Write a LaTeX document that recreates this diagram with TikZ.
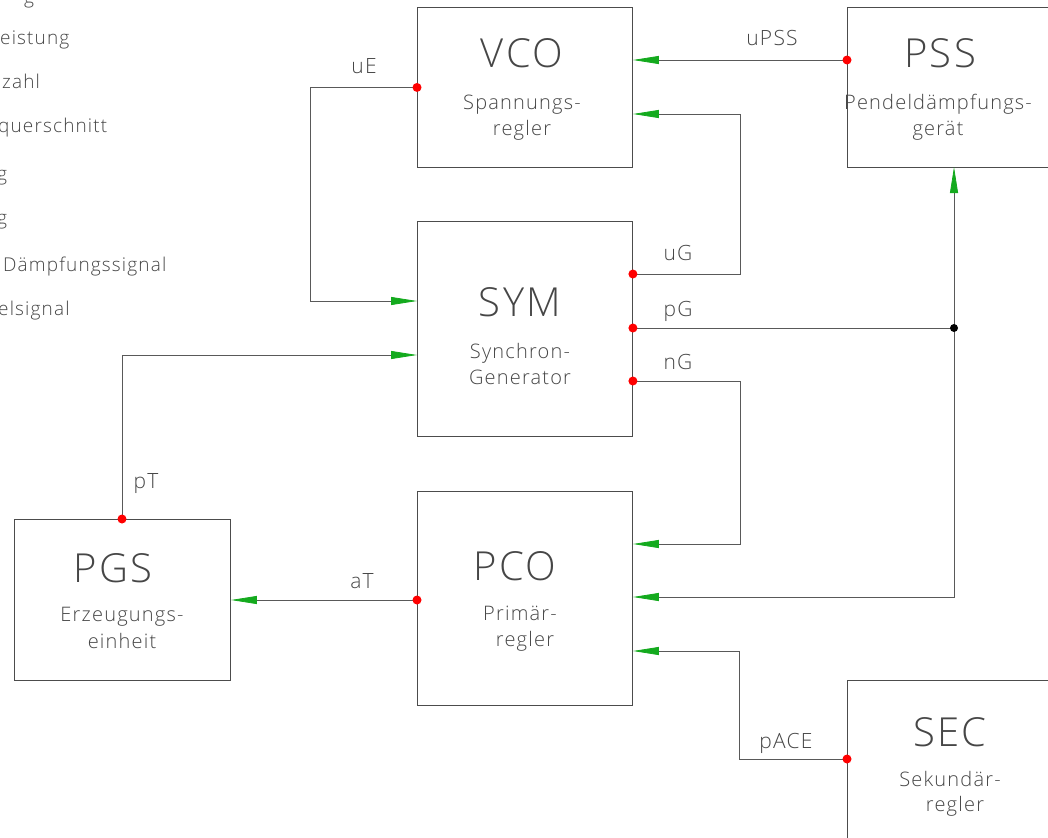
\documentclass[tikz,border=0pt]{standalone}
\usepackage{fontspec}
\setmainfont{Open Sans}[UprightFont=* Light, LetterSpace=6]
\usetikzlibrary{arrows.meta,calc}
\definecolor{arrgreen}{RGB}{20,170,30}
\definecolor{txtgray}{RGB}{70,70,70}
\tikzset{
  box/.style={draw=black!70, line width=0.9pt, minimum width=215pt, minimum height=160pt, anchor=north west, inner sep=0pt},
  conn/.style={draw=black!65, line width=0.8pt, -{Triangle[length=26pt,width=8pt,fill=arrgreen,color=arrgreen]}},
  line/.style={draw=black!65, line width=0.8pt},
  rdot/.style={fill=red, draw=none, circle, minimum size=9pt, inner sep=0pt},
  bdot/.style={fill=black, draw=none, circle, minimum size=8pt, inner sep=0pt},
  big/.style={font=\fontsize{40}{44}\selectfont, text=txtgray, inner sep=0pt, anchor=base},
  small/.style={font=\fontsize{20}{26}\selectfont, text=txtgray, inner sep=0pt, anchor=base},
  lbl/.style={font=\fontsize{21}{26}\selectfont, text=txtgray, inner sep=0pt, anchor=base},
  side/.style={font=\fontsize{19}{26}\selectfont, text=txtgray, inner sep=0pt, anchor=base west},
}
\begin{document}
\begin{tikzpicture}[x=1pt,y=1pt]
\useasboundingbox (0,0) rectangle (1048,-837);
\clip (0,0) rectangle (1048,-837);
% side legend (cut off)
\node[side] (s0) at (24,-4) {g};
\node[side] (s1) at (0,-45) {eistung};
\node[side] (s2) at (2,-89) {zahl};
\node[side] (s3) at (-2,-133) {querschnitt};
\node[side] (s4) at (-3,-180) {g};
\node[side] (s5) at (-3,-224) {g};
\node[side] (s6) at (3,-271) {Dämpfungssignal};
\node[side] (s7) at (-2,-315) {elsignal};
% boxes
\node[box] (vco) at (417,-7) {};
\node[box] (pss) at (847,-7) {};
\node[box, minimum height=215pt] (sym) at (417,-221) {};
\node[box, minimum height=214pt] (pco) at (417,-491) {};
\node[box, minimum width=216pt, minimum height=161pt] (pgs) at (14,-519) {};
\node[box] (sec) at (847,-680) {};
% box texts
\node[big] (t1) at (522,-68) {VCO};
\node[small] (t1a) at (522,-110) {Spannungs-};
\node[small] (t1b) at (522,-136) {regler};
\node[big] (t2) at (940,-68) {PSS};
\node[small] (t2a) at (938,-110) {Pendeldämpfungs-};
\node[small] (t2b) at (938,-136) {gerät};
\node[big] (t3) at (520,-316) {SYM};
\node[small] (t3a) at (520,-358) {Synchron-};
\node[small] (t3b) at (520,-384) {Generator};
\node[big] (t4) at (515,-580) {PCO};
\node[small] (t4a) at (520,-620) {Primär-};
\node[small] (t4b) at (525,-646) {regler};
\node[big] (t5) at (113,-582) {PGS};
\node[small] (t5a) at (122,-621) {Erzeugungs-};
\node[small] (t5b) at (122,-648) {einheit};
\node[big] (t6) at (950,-746) {SEC};
\node[small] (t6a) at (950,-786) {Sekundär-};
\node[small] (t6b) at (955,-811) {regler};
% anchor coordinates
\coordinate (vcoA) at ($(vco.north east)+(0,-53)$);
\coordinate (vcoB) at ($(vco.north east)+(0,-107)$);
\coordinate (pssA) at ($(pss.north west)+(0,-53)$);
\coordinate (pssB) at (954,-167);
\coordinate (symL1) at ($(sym.north west)+(0,-80)$);
\coordinate (symL2) at ($(sym.north west)+(0,-134)$);
\coordinate (symR1) at ($(sym.north east)+(0,-53)$);
\coordinate (symR2) at ($(sym.north east)+(0,-107)$);
\coordinate (symR3) at ($(sym.north east)+(0,-160)$);
\coordinate (pcoR1) at ($(pco.north east)+(0,-53)$);
\coordinate (pcoR2) at ($(pco.north east)+(0,-106)$);
\coordinate (pcoR3) at ($(pco.north east)+(0,-160)$);
\coordinate (pcoL) at ($(pco.north west)+(0,-109)$);
\coordinate (pgsR) at ($(pgs.north east)+(0,-81)$);
\coordinate (pgsT) at (122,-519);
\coordinate (secL) at ($(sec.north west)+(0,-79)$);
\coordinate (junc) at (954,-328);
% connectors
\draw[conn] (vco.west) -- ++(-107,0) |- (symL1);
\draw[conn] (pssA) -- (vcoA);
\draw[conn] (symR1) -- ++(107,0) |- (vcoB);
\draw[line] (symR2) -- (junc);
\draw[conn] (junc) -- (pssB);
\draw[conn] (junc) |- (pcoR2);
\draw[conn] (symR3) -- ++(107,0) |- (pcoR1);
\draw[conn] (pgsT) |- (symL2);
\draw[conn] (pcoL) -- (pgsR);
\draw[conn] (secL) -- ++(-108,0) |- (pcoR3);
% dots
\node[rdot] (d1) at (vco.west) {};
\node[rdot] (d2) at (pssA) {};
\node[rdot] (d3) at (symR1) {};
\node[rdot] (d4) at (symR2) {};
\node[rdot] (d5) at (symR3) {};
\node[rdot] (d6) at (pgsT) {};
\node[rdot] (d7) at (pcoL) {};
\node[rdot] (d8) at (secL) {};
\node[bdot] (d9) at (junc) {};
% labels
\node[lbl] (l1) at (364,-74) {uE};
\node[lbl] (l2) at (772,-46) {uPSS};
\node[lbl] (l3) at (678,-260) {uG};
\node[lbl] (l4) at (678,-316) {pG};
\node[lbl] (l5) at (678,-369) {nG};
\node[lbl] (l6) at (146,-488) {pT};
\node[lbl] (l7) at (362,-588) {aT};
\node[lbl] (l8) at (786,-748) {pACE};
\end{tikzpicture}
\end{document}
